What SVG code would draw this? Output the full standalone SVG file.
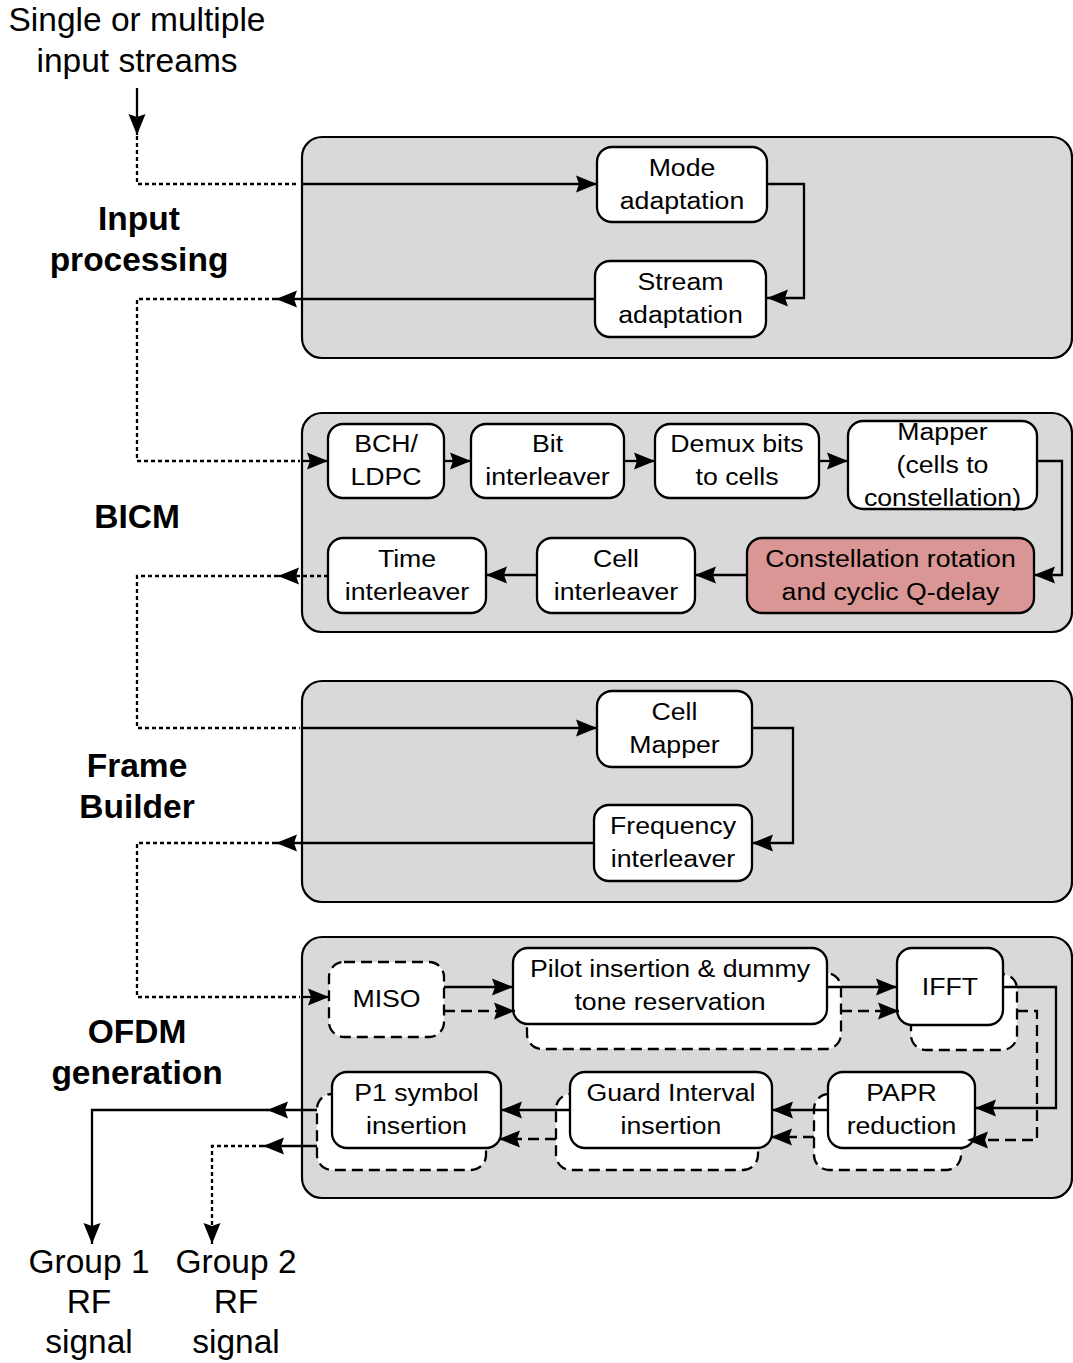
<svg xmlns="http://www.w3.org/2000/svg" width="1073" height="1363" viewBox="0 0 1073 1363">
  <defs>
    <marker id="arr" markerUnits="userSpaceOnUse" markerWidth="21" markerHeight="17" refX="21" refY="8.5" orient="auto" overflow="visible">
      <path d="M0,0 L21,8.5 L0,17 L3,8.5 z" fill="#000"/>
    </marker>
    <style>
      .stage { fill: #d9d9d9; stroke: #000; stroke-width: 2.2; }
      .box { fill: #fff; stroke: #000; stroke-width: 2.3; }
      .dbox { fill: #fff; stroke: #000; stroke-width: 2.3; stroke-dasharray: 11 6; }
      .hl { fill: #d99694; }
      .ln { fill: none; stroke: #000; stroke-width: 2.3; }
      .dot { fill: none; stroke: #000; stroke-width: 2.3; stroke-dasharray: 4 3; }
      .dash { fill: none; stroke: #000; stroke-width: 2.3; stroke-dasharray: 11 6; }
      text { font-family: "Liberation Sans", Arial, sans-serif; fill: #000; text-anchor: middle; }
      .lbl { font-size: 33.5px; }
      .stg { font-size: 33.5px; font-weight: bold; }
      .bt { font-size: 23px; }
    </style>
  </defs>

  <!-- stage containers -->
  <g id="stages">
    <rect id="stage-input" class="stage" x="302" y="137" width="770" height="221" rx="20"/>
    <rect id="stage-bicm" class="stage" x="302" y="413" width="770" height="219" rx="20"/>
    <rect id="stage-frame" class="stage" x="302" y="681" width="770" height="221" rx="20"/>
    <rect id="stage-ofdm" class="stage" x="302" y="937" width="770" height="261" rx="20"/>
  </g>

  <!-- stage titles and external labels -->
  <g id="labels">
    <text class="lbl" x="137" y="31">Single or multiple</text>
    <text class="lbl" x="137" y="72">input streams</text>
    <text class="stg" x="139" y="230">Input</text>
    <text class="stg" x="139" y="271">processing</text>
    <text class="stg" x="137" y="528">BICM</text>
    <text class="stg" x="137" y="777">Frame</text>
    <text class="stg" x="137" y="818">Builder</text>
    <text class="stg" x="137" y="1043">OFDM</text>
    <text class="stg" x="137" y="1084">generation</text>
    <text class="lbl" x="89" y="1273">Group 1</text>
    <text class="lbl" x="89" y="1313">RF</text>
    <text class="lbl" x="89" y="1353">signal</text>
    <text class="lbl" x="236" y="1273">Group 2</text>
    <text class="lbl" x="236" y="1313">RF</text>
    <text class="lbl" x="236" y="1353">signal</text>
  </g>

  <!-- input processing -->
  <g id="mode-adaptation">
    <rect class="box" x="597" y="147" width="170" height="75" rx="15"/>
    <text class="bt" transform="matrix(1.16 0 0 1 682 0)"><tspan x="0" y="176">Mode</tspan><tspan x="0" y="209">adaptation</tspan></text>
  </g>
  <g id="stream-adaptation">
    <rect class="box" x="595" y="261" width="171" height="76" rx="15"/>
    <text class="bt" transform="matrix(1.16 0 0 1 680.5 0)"><tspan x="0" y="290.5">Stream</tspan><tspan x="0" y="323.5">adaptation</tspan></text>
  </g>

  <!-- BICM -->
  <g id="bch-ldpc">
    <rect class="box" x="328" y="424" width="116" height="74" rx="15"/>
    <text class="bt" transform="matrix(1.16 0 0 1 386 0)"><tspan x="0" y="452.5">BCH/</tspan><tspan x="0" y="485.5">LDPC</tspan></text>
  </g>
  <g id="bit-interleaver">
    <rect class="box" x="471" y="424" width="153" height="74" rx="15"/>
    <text class="bt" transform="matrix(1.16 0 0 1 547.5 0)"><tspan x="0" y="452.5">Bit</tspan><tspan x="0" y="485.5">interleaver</tspan></text>
  </g>
  <g id="demux">
    <rect class="box" x="655" y="424" width="164" height="74" rx="15"/>
    <text class="bt" transform="matrix(1.16 0 0 1 737 0)"><tspan x="0" y="452.5">Demux bits</tspan><tspan x="0" y="485.5">to cells</tspan></text>
  </g>
  <g id="mapper">
    <rect class="box" x="848" y="421" width="189" height="88" rx="15"/>
    <text class="bt" transform="matrix(1.16 0 0 1 942.5 0)"><tspan x="0" y="440.5">Mapper</tspan><tspan x="0" y="473.5">(cells to</tspan><tspan x="0" y="506.5">constellation)</tspan></text>
  </g>
  <g id="constellation-rotation">
    <rect class="box hl" x="747" y="538" width="287" height="75" rx="15"/>
    <text class="bt" transform="matrix(1.16 0 0 1 890.5 0)"><tspan x="0" y="567">Constellation rotation</tspan><tspan x="0" y="600">and cyclic Q-delay</tspan></text>
  </g>
  <g id="cell-interleaver">
    <rect class="box" x="537" y="538" width="158" height="75" rx="15"/>
    <text class="bt" transform="matrix(1.16 0 0 1 616 0)"><tspan x="0" y="567">Cell</tspan><tspan x="0" y="600">interleaver</tspan></text>
  </g>
  <g id="time-interleaver">
    <rect class="box" x="328" y="538" width="158" height="75" rx="15"/>
    <text class="bt" transform="matrix(1.16 0 0 1 407 0)"><tspan x="0" y="567">Time</tspan><tspan x="0" y="600">interleaver</tspan></text>
  </g>

  <!-- frame builder -->
  <g id="cell-mapper">
    <rect class="box" x="597" y="691" width="155" height="76" rx="15"/>
    <text class="bt" transform="matrix(1.16 0 0 1 674.5 0)"><tspan x="0" y="720.5">Cell</tspan><tspan x="0" y="753.5">Mapper</tspan></text>
  </g>
  <g id="frequency-interleaver">
    <rect class="box" x="594" y="805" width="158" height="76" rx="15"/>
    <text class="bt" transform="matrix(1.16 0 0 1 673 0)"><tspan x="0" y="834.5">Frequency</tspan><tspan x="0" y="867.5">interleaver</tspan></text>
  </g>

  <!-- OFDM generation: second-path copies drawn dashed behind each block -->
  <g id="miso">
    <rect class="dbox" x="329" y="962" width="115" height="75" rx="15"/>
    <text class="bt" transform="matrix(1.16 0 0 1 386.5 0)"><tspan x="0" y="1007.5">MISO</tspan></text>
  </g>
  <g id="pilot-insertion">
    <rect class="dbox" x="527" y="973" width="314" height="76" rx="15"/>
    <rect class="box" x="513" y="948" width="314" height="76" rx="15"/>
    <text class="bt" transform="matrix(1.16 0 0 1 670 0)"><tspan x="0" y="977.5">Pilot insertion &amp; dummy</tspan><tspan x="0" y="1010.5">tone reservation</tspan></text>
  </g>
  <g id="ifft">
    <rect class="dbox" x="911" y="974" width="106" height="76" rx="15"/>
    <rect class="box" x="897" y="948" width="106" height="77" rx="15"/>
    <text class="bt" transform="matrix(1.16 0 0 1 950 0)"><tspan x="0" y="995">IFFT</tspan></text>
  </g>
  <g id="papr-reduction">
    <rect class="dbox" x="814" y="1094" width="147" height="76" rx="15"/>
    <rect class="box" x="828" y="1072" width="147" height="76" rx="15"/>
    <text class="bt" transform="matrix(1.16 0 0 1 901.5 0)"><tspan x="0" y="1101.5">PAPR</tspan><tspan x="0" y="1134.5">reduction</tspan></text>
  </g>
  <g id="guard-interval">
    <rect class="dbox" x="556" y="1094" width="202" height="76" rx="15"/>
    <rect class="box" x="570" y="1072" width="202" height="76" rx="15"/>
    <text class="bt" transform="matrix(1.16 0 0 1 671 0)"><tspan x="0" y="1101.5">Guard Interval</tspan><tspan x="0" y="1134.5">insertion</tspan></text>
  </g>
  <g id="p1-symbol">
    <rect class="dbox" x="317" y="1094" width="169" height="76" rx="15"/>
    <rect class="box" x="332" y="1072" width="169" height="76" rx="15"/>
    <text class="bt" transform="matrix(1.16 0 0 1 416.5 0)"><tspan x="0" y="1101.5">P1 symbol</tspan><tspan x="0" y="1134.5">insertion</tspan></text>
  </g>

  <!-- connectors -->
  <g id="connectors">
    <!-- into input processing -->
    <path class="ln" d="M137,88 V135" marker-end="url(#arr)"/>
    <path class="dot" d="M137,136 V184 H296"/>
    <path class="ln" d="M302,184 H597" marker-end="url(#arr)"/>
    <path class="ln" d="M767,184 H804 V298 H767" marker-end="url(#arr)"/>
    <path class="ln" d="M595,299 H276" marker-end="url(#arr)"/>
    <path class="dot" d="M276,299 H137 V461 H300"/>
    <!-- BICM chain -->
    <path class="ln" d="M302,461 H328" marker-end="url(#arr)"/>
    <path class="ln" d="M444,461 H471" marker-end="url(#arr)"/>
    <path class="ln" d="M624,461 H655" marker-end="url(#arr)"/>
    <path class="ln" d="M819,461 H848" marker-end="url(#arr)"/>
    <path class="ln" d="M1037,461 H1062 V575 H1034" marker-end="url(#arr)"/>
    <path class="ln" d="M747,575 H695" marker-end="url(#arr)"/>
    <path class="ln" d="M537,575 H486" marker-end="url(#arr)"/>
    <path class="dot" d="M328,576 H296"/>
    <path class="ln" d="M298,576 H278" marker-end="url(#arr)"/>
    <path class="dot" d="M278,576 H137 V728 H300"/>
    <!-- frame builder -->
    <path class="ln" d="M302,728 H597" marker-end="url(#arr)"/>
    <path class="ln" d="M752,728 H793 V843 H752" marker-end="url(#arr)"/>
    <path class="ln" d="M594,843 H276" marker-end="url(#arr)"/>
    <path class="dot" d="M276,843 H137 V997 H300"/>
    <!-- OFDM generation -->
    <path class="ln" d="M302,997 H329" marker-end="url(#arr)"/>
    <path class="ln" d="M444,987 H513" marker-end="url(#arr)"/>
    <path class="dash" d="M444,1011 H515" marker-end="url(#arr)"/>
    <path class="ln" d="M827,987 H897" marker-end="url(#arr)"/>
    <path class="dash" d="M841,1011 H899" marker-end="url(#arr)"/>
    <path class="ln" d="M1003,987 H1056 V1108 H975" marker-end="url(#arr)"/>
    <path class="dash" d="M1017,1011 H1037 V1140 H967" marker-end="url(#arr)"/>
    <path class="ln" d="M828,1110 H772" marker-end="url(#arr)"/>
    <path class="dash" d="M814,1137 H771" marker-end="url(#arr)"/>
    <path class="ln" d="M570,1110 H501" marker-end="url(#arr)"/>
    <path class="dash" d="M556,1139 H499" marker-end="url(#arr)"/>
    <!-- RF outputs -->
    <path class="ln" d="M317,1110 H267" marker-end="url(#arr)"/>
    <path class="ln" d="M268,1110 H92 V1244" marker-end="url(#arr)"/>
    <path class="ln" d="M317,1146 H263" marker-end="url(#arr)"/>
    <path class="dot" d="M263,1146 H212 V1244" marker-end="url(#arr)"/>
  </g>
</svg>
